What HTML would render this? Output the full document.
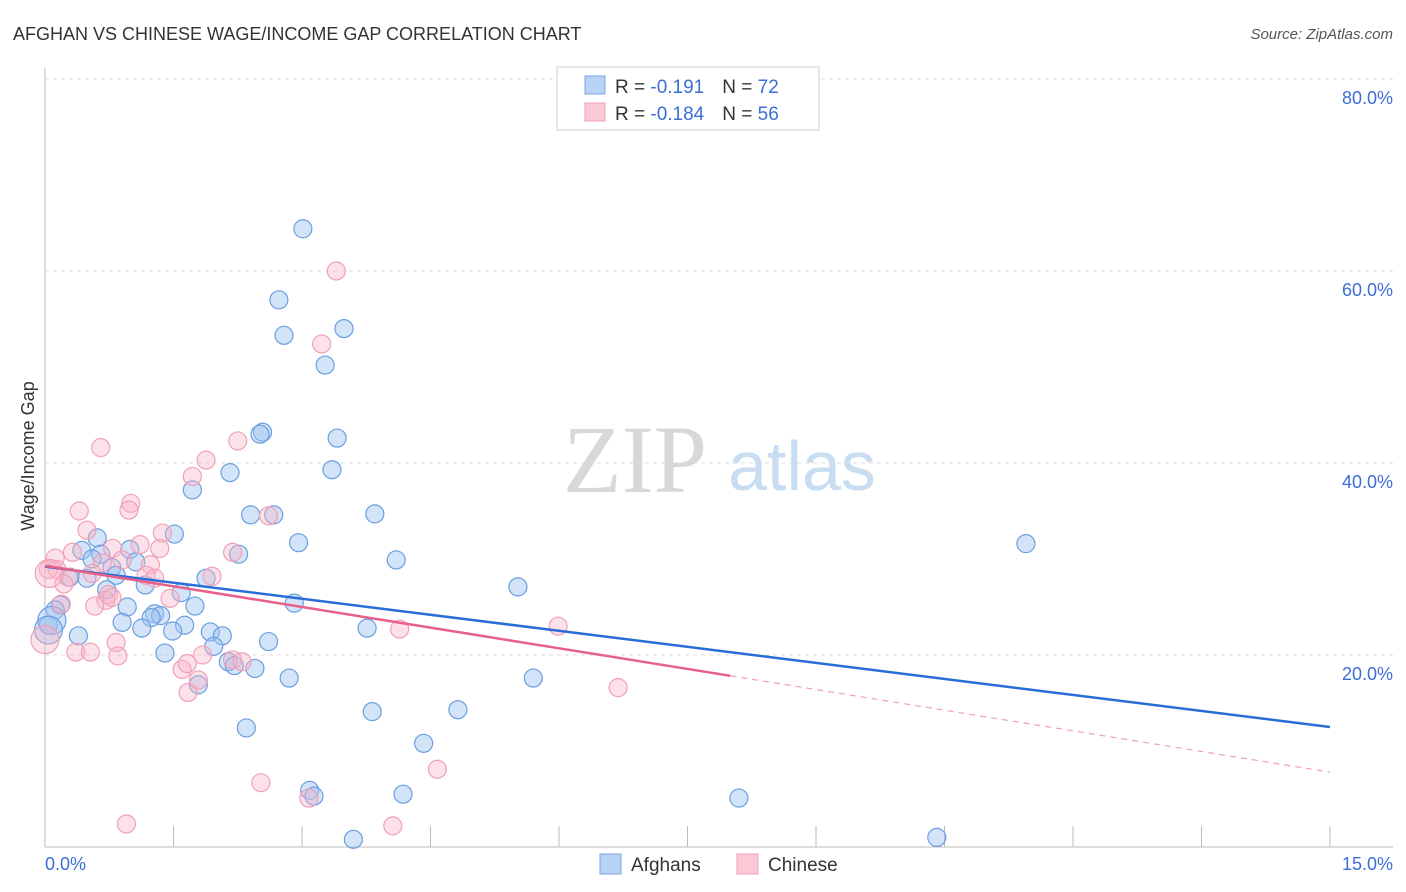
<!DOCTYPE html>
<html><head><meta charset="utf-8"><style>
body{margin:0;background:#fff;font-family:"Liberation Sans",sans-serif}
#c{position:relative;width:1406px;height:892px;overflow:hidden}
</style></head><body>
<div id="c">
<svg id="s" width="1406" height="892" xmlns="http://www.w3.org/2000/svg">
<text x="13" y="40" font-size="18" fill="#333">AFGHAN VS CHINESE WAGE/INCOME GAP CORRELATION CHART</text>
<text x="1393" y="39" font-size="15" fill="#555" text-anchor="end" font-style="italic">Source: ZipAtlas.com</text>
<text x="635" y="492" font-size="96" fill="#d8d8d8" font-family="Liberation Serif" text-anchor="middle">ZIP</text>
<text x="802" y="490" font-size="70" fill="#c8dcf2" text-anchor="middle">atlas</text>
<text transform="translate(34,456) rotate(-90)" font-size="18" fill="#333" text-anchor="middle">Wage/Income Gap</text>
<g id="grid"></g><g id="pts"></g><g id="lines"></g>
<text x="45" y="870" font-size="18" fill="#3b6fd6">0.0%</text>
<text x="1393" y="870" font-size="18" fill="#3b6fd6" text-anchor="end">15.0%</text>
<g>
<rect x="557" y="67" width="262" height="63" fill="#fff" stroke="#ccc"/>
<rect x="585" y="76" width="20" height="18" fill="#b8d3f5" stroke="#7aa6e4"/>
<rect x="585" y="103" width="20" height="18" fill="#fbc8d6" stroke="#f0a0b8"/>
<text x="615" y="93" font-size="19" fill="#333">R = <tspan fill="#3b6fd6"> -0.191</tspan><tspan dx="18">N = </tspan><tspan fill="#3b6fd6">72</tspan></text>
<text x="615" y="120" font-size="19" fill="#333">R = <tspan fill="#3b6fd6">-0.184</tspan><tspan dx="18">N = </tspan><tspan fill="#3b6fd6">56</tspan></text>
</g>
<g>
<rect x="600" y="854" width="21" height="20" fill="#b8d3f5" stroke="#7aa6e4"/>
<text x="631" y="871" font-size="19" fill="#333">Afghans</text>
<rect x="737" y="854" width="21" height="20" fill="#fbc8d6" stroke="#f0a0b8"/>
<text x="768" y="871" font-size="19" fill="#333">Chinese</text>
</g>
</svg>
</div>
<script>
const yTicks=[20,40,60,80];
const yTickLabels=["20.0%","40.0%","60.0%","80.0%"];
const xTicks=[0,1.5,3,4.5,6,7.5,9,10.5,12,13.5,15];
const afghanX=[3.01,2.73,2.79,3.49,3.27,2.54,2.51,3.41,3.35,2.16,1.72,2.40,2.67,3.85,1.51,2.96,2.26,4.10,11.45,5.52,0.61,0.43,0.65,0.99,0.55,0.78,1.06,1.17,0.83,0.29,0.49,1.88,1.59,0.72,2.91,1.75,0.96,0.18,0.12,1.28,1.35,1.24,0.90,1.63,1.13,1.49,0.39,0.04,1.93,2.07,2.61,1.97,1.40,2.14,2.21,2.45,3.76,1.79,2.85,5.70,3.82,4.82,2.35,4.42,3.09,3.14,4.18,8.10,3.60,10.41,0.08,0.04];
const afghanY=[64.4,57.0,53.3,54.0,50.2,43.2,43.0,42.6,39.3,39.0,37.2,34.6,34.6,34.7,32.6,31.7,30.5,29.9,31.6,27.1,32.2,30.9,30.5,31.0,30.0,29.1,29.7,27.3,28.3,28.1,28.0,28.0,26.5,26.8,25.4,25.1,25.0,25.2,24.7,24.3,24.1,23.9,23.4,23.1,22.8,22.5,22.0,23.1,22.4,22.0,21.4,20.9,20.2,19.3,18.9,18.6,22.8,16.9,17.6,17.6,14.1,14.3,12.4,10.8,5.9,5.3,5.5,5.1,0.8,1.0,23.6,22.6];
const chineseX=[3.40,3.23,0.65,2.25,1.88,1.72,1.00,0.98,0.40,0.49,1.37,2.61,1.11,0.79,0.12,0.32,2.19,0.90,1.34,1.23,0.67,1.18,1.28,0.14,0.04,0.27,0.55,1.95,0.22,0.74,0.71,0.78,0.19,0.58,1.46,5.99,4.14,0.83,0.36,0.53,0.85,1.84,2.19,2.30,1.60,1.66,1.79,1.67,6.69,0.0,2.52,4.58,3.08,0.95,4.06,0.05];
const chineseY=[60.0,52.4,41.6,42.3,40.3,38.6,35.8,35.1,35.0,33.0,32.7,34.5,31.5,31.1,30.1,30.7,30.7,29.9,31.1,29.4,29.6,28.3,28.0,28.9,28.9,28.1,28.5,28.2,27.4,26.3,25.7,26.0,25.3,25.1,25.9,23.0,22.7,21.3,20.3,20.3,19.9,20.0,19.5,19.3,18.5,19.1,17.4,16.1,16.6,21.6,6.7,8.1,5.1,2.4,2.2,28.5];
const afghanTrend=[29.2,12.5];
const chineseTrend=[29.3,7.8];
const chineseSolidEnd=8.0;

const NS="http://www.w3.org/2000/svg";
const X0=45,X1=1330,Y0=847;
const sx=v=>X0+v/15*(X1-X0);
const sy=v=>Y0-v*9.6;
function mk(t,a,p){const e=document.createElementNS(NS,t);for(const k in a)e.setAttribute(k,a[k]);p.appendChild(e);return e;}
const grid=document.getElementById('grid');
let ax=mk('line',{x1:X0,y1:68,x2:X0,y2:847,stroke:'#bbb'},grid);


let bx=mk('line',{x1:X0,y1:847,x2:1393,y2:847,stroke:'#bbb'},grid);


yTicks.forEach((t,i)=>{
 const g=mk('line',{x1:X0,y1:sy(t),x2:1393,y2:sy(t),stroke:'#ddd','stroke-dasharray':'4,4'},grid);
 
 
 const l=mk('text',{x:1393,y:sy(t)+25,'font-size':18,fill:'#3b6fd6','text-anchor':'end'},grid);
 l.textContent=yTickLabels[i];
 
 
});
xTicks.forEach(t=>{
 const k=mk('line',{x1:sx(t),y1:826,x2:sx(t),y2:847,stroke:'#bbb'},grid);
 
 
});
const pts=document.getElementById('pts');
afghanX.forEach((v,i)=>{
 const c=mk('circle',{cx:sx(v),cy:sy(afghanY[i]),r:(i>=70?14:9),fill:'rgba(160,196,240,0.45)',stroke:'#6a9ee0','stroke-width':1.2},pts);
 
 
});
chineseX.forEach((v,i)=>{
 const c=mk('circle',{cx:sx(v),cy:sy(chineseY[i]),r:(i==49||i==55?14:9),fill:'rgba(248,180,200,0.4)',stroke:'#f0a0b8','stroke-width':1.2},pts);
 
 
});
const lines=document.getElementById('lines');
const ty=(tr,x)=>tr[0]+(tr[1]-tr[0])*x/15;
let bl=mk('line',{x1:sx(0),y1:sy(afghanTrend[0]),x2:sx(15),y2:sy(afghanTrend[1]),stroke:'#2a6dd6','stroke-width':2.5},lines);


let pl=mk('line',{x1:sx(0),y1:sy(chineseTrend[0]),x2:sx(chineseSolidEnd),y2:sy(ty(chineseTrend,chineseSolidEnd)),stroke:'#e8608a','stroke-width':2.5},lines);


let pd=mk('line',{x1:sx(chineseSolidEnd),y1:sy(ty(chineseTrend,chineseSolidEnd)),x2:sx(15),y2:sy(chineseTrend[1]),stroke:'#f0a0b8','stroke-width':1.2,'stroke-dasharray':'6,5'},lines);


</script>
</body></html>
